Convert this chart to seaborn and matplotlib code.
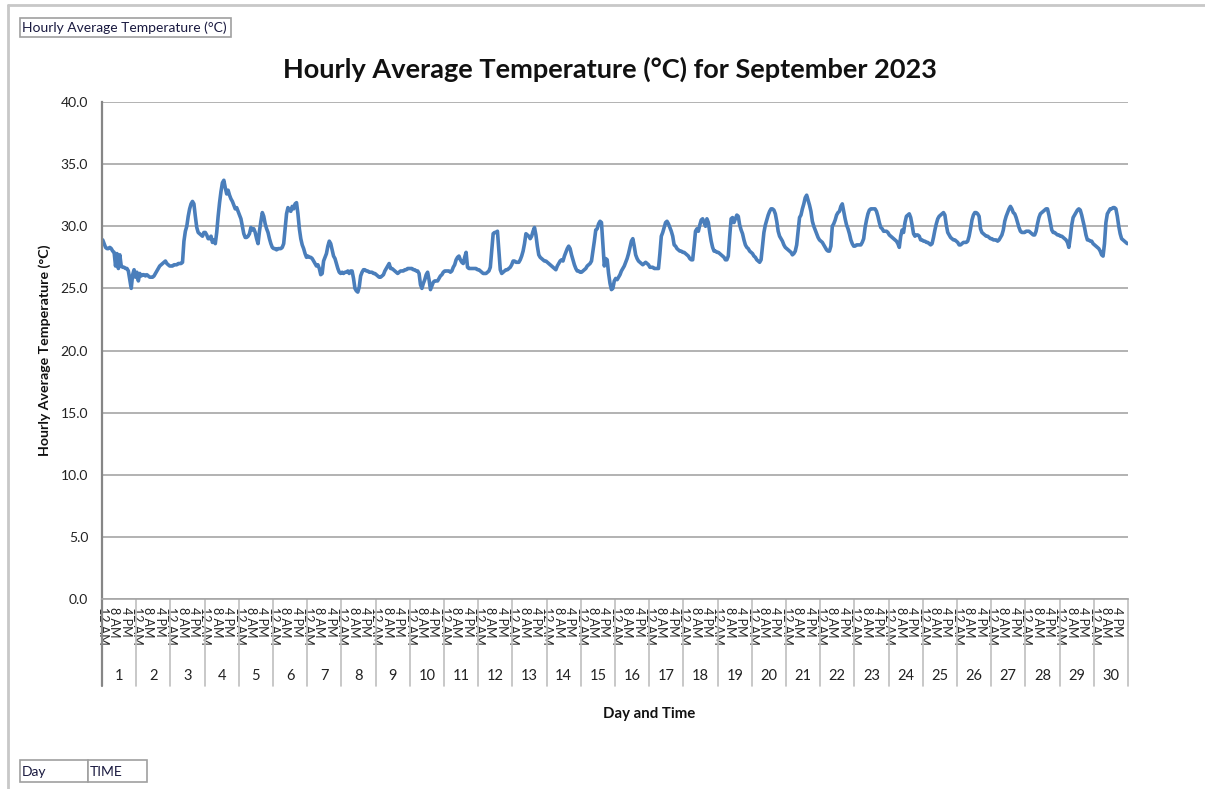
import numpy as np
import pandas as pd
import matplotlib
matplotlib.use("Agg")
import matplotlib.pyplot as plt
import seaborn as sns
from matplotlib.lines import Line2D
from matplotlib.patches import Rectangle

# ---- data: hourly average temperature (°C), one list of 24 hours per day ----
days = list(range(1, 31))
hour_tick_hours = [0, 8, 16]
hour_tick_labels = ["12 AM", "8 AM", "4 PM"]
y_ticks = [0.0, 5.0, 10.0, 15.0, 20.0, 25.0, 30.0, 35.0, 40.0]

day01 = [28.9, 28.6, 28.3, 28.2, 28.2, 28.3, 28.2, 28.0, 27.9, 26.8, 27.8, 26.6, 27.7, 26.8, 26.7, 26.7, 26.6, 26.6, 26.4, 25.7, 25.0, 26.1, 26.5, 25.9]
day02 = [26.3, 25.6, 26.2, 26.0, 26.1, 26.1, 26.0, 26.1, 26.0, 25.9, 25.9, 25.9, 26.0, 26.2, 26.4, 26.6, 26.8, 26.9, 27.0, 27.1, 27.2, 27.0, 26.9, 26.8]
day03 = [26.8, 26.8, 26.9, 26.9, 26.9, 27.0, 27.0, 27.0, 27.1, 28.8, 29.6, 30.0, 30.8, 31.4, 31.8, 32.0, 31.8, 30.8, 29.9, 29.5, 29.4, 29.3, 29.2, 29.5]
day04 = [29.5, 29.3, 29.0, 29.0, 29.2, 28.7, 28.9, 28.6, 29.5, 30.8, 31.9, 32.8, 33.5, 33.7, 33.1, 32.6, 32.9, 32.5, 32.2, 32.0, 31.7, 31.4, 31.5, 31.2]
day05 = [30.9, 30.6, 30.0, 29.4, 29.1, 29.1, 29.2, 29.4, 29.9, 29.7, 29.8, 29.5, 29.0, 28.6, 29.6, 30.4, 31.1, 30.8, 30.2, 29.8, 29.5, 29.0, 28.6, 28.3]
day06 = [28.2, 28.2, 28.1, 28.2, 28.2, 28.2, 28.3, 28.6, 29.8, 31.0, 31.5, 31.3, 31.2, 31.6, 31.4, 31.8, 31.9, 31.0, 29.8, 29.0, 28.5, 28.2, 27.8, 27.5]
day07 = [27.6, 27.5, 27.5, 27.4, 27.2, 27.0, 26.8, 26.9, 26.6, 26.1, 26.2, 27.2, 27.5, 27.8, 28.4, 28.8, 28.6, 28.1, 27.6, 27.4, 27.0, 26.6, 26.3, 26.2]
day08 = [26.3, 26.2, 26.3, 26.3, 26.4, 26.2, 26.4, 26.4, 25.8, 25.0, 24.8, 24.7, 25.1, 26.0, 26.3, 26.5, 26.5, 26.4, 26.4, 26.3, 26.3, 26.3, 26.2, 26.2]
day09 = [26.1, 26.0, 25.9, 25.9, 26.0, 26.1, 26.4, 26.6, 26.8, 27.0, 26.6, 26.6, 26.5, 26.4, 26.3, 26.2, 26.3, 26.4, 26.4, 26.4, 26.5, 26.5, 26.6, 26.6]
day10 = [26.6, 26.6, 26.5, 26.5, 26.4, 26.4, 26.2, 25.3, 25.0, 25.4, 25.7, 26.1, 26.3, 25.7, 24.9, 25.2, 25.5, 25.6, 25.6, 25.6, 25.8, 26.0, 26.1, 26.3]
day11 = [26.4, 26.4, 26.4, 26.4, 26.3, 26.4, 26.7, 26.9, 27.3, 27.5, 27.6, 27.3, 27.1, 27.0, 27.5, 27.9, 26.7, 26.6, 26.6, 26.6, 26.6, 26.6, 26.6, 26.5]
day12 = [26.5, 26.4, 26.3, 26.2, 26.2, 26.2, 26.3, 26.4, 26.7, 28.0, 29.4, 29.5, 29.5, 29.6, 28.0, 26.5, 26.2, 26.3, 26.4, 26.5, 26.5, 26.6, 26.7, 26.9]
day13 = [27.2, 27.2, 27.1, 27.1, 27.1, 27.3, 27.6, 28.0, 28.6, 29.4, 29.3, 29.2, 29.0, 29.2, 29.6, 29.9, 29.3, 28.4, 27.7, 27.5, 27.4, 27.3, 27.2, 27.2]
day14 = [27.1, 27.0, 26.9, 26.8, 26.7, 26.6, 26.5, 26.8, 27.0, 27.2, 27.3, 27.2, 27.6, 27.9, 28.2, 28.4, 28.2, 27.7, 27.3, 26.9, 26.6, 26.4, 26.4, 26.3]
day15 = [26.3, 26.4, 26.5, 26.6, 26.8, 26.9, 27.0, 27.2, 28.0, 28.8, 29.7, 29.8, 30.2, 30.4, 30.3, 28.5, 26.8, 27.4, 27.3, 26.2, 25.4, 24.9, 25.0, 25.6]
day16 = [25.8, 25.7, 25.9, 26.1, 26.4, 26.6, 26.8, 27.1, 27.4, 27.8, 28.3, 28.8, 29.0, 28.4, 27.7, 27.4, 27.2, 27.1, 27.0, 26.9, 27.0, 27.1, 27.0, 26.9]
day17 = [26.7, 26.7, 26.7, 26.6, 26.6, 26.6, 26.6, 27.8, 29.2, 29.5, 29.9, 30.3, 30.4, 30.2, 29.9, 29.6, 29.2, 28.5, 28.4, 28.2, 28.1, 28.0, 28.0, 27.9]
day18 = [27.9, 27.8, 27.7, 27.6, 27.4, 27.3, 27.3, 28.4, 29.6, 29.8, 29.6, 30.1, 30.5, 30.6, 30.3, 30.0, 30.6, 30.3, 29.5, 28.8, 28.3, 28.0, 28.0, 27.9]
day19 = [27.9, 27.8, 27.7, 27.6, 27.5, 27.3, 27.3, 27.6, 29.2, 30.6, 30.7, 30.3, 30.6, 30.9, 30.8, 30.1, 29.7, 29.4, 28.9, 28.5, 28.3, 28.2, 28.0, 27.9]
day20 = [27.8, 27.6, 27.5, 27.3, 27.2, 27.1, 27.3, 28.4, 29.5, 30.1, 30.5, 30.9, 31.2, 31.4, 31.4, 31.3, 31.0, 30.4, 29.6, 29.2, 29.0, 28.8, 28.5, 28.3]
day21 = [28.2, 28.1, 28.0, 27.9, 27.7, 27.8, 28.0, 28.5, 29.6, 30.7, 30.9, 31.4, 31.8, 32.3, 32.5, 32.1, 31.7, 31.2, 30.4, 30.0, 29.7, 29.4, 29.1, 28.9]
day22 = [28.8, 28.7, 28.5, 28.3, 28.1, 28.0, 28.0, 28.4, 30.0, 30.2, 30.5, 30.9, 31.1, 31.2, 31.6, 31.8, 31.2, 30.6, 30.1, 29.8, 29.4, 28.9, 28.6, 28.4]
day23 = [28.4, 28.5, 28.5, 28.5, 28.5, 28.7, 29.0, 29.9, 30.5, 31.0, 31.3, 31.4, 31.4, 31.4, 31.4, 31.2, 30.8, 30.3, 29.9, 29.8, 29.6, 29.6, 29.6, 29.5]
day24 = [29.3, 29.2, 29.1, 29.0, 28.9, 28.8, 28.6, 28.3, 29.2, 29.7, 29.5, 30.3, 30.8, 30.9, 31.0, 30.7, 30.1, 29.4, 29.2, 29.3, 29.3, 29.2, 28.9, 28.9]
day25 = [28.8, 28.8, 28.7, 28.7, 28.6, 28.5, 28.6, 29.1, 29.7, 30.2, 30.6, 30.8, 30.9, 31.0, 31.1, 30.9, 30.1, 29.5, 29.3, 29.1, 29.0, 28.9, 28.9, 28.8]
day26 = [28.7, 28.5, 28.5, 28.6, 28.7, 28.7, 28.7, 28.8, 29.2, 29.8, 30.5, 30.9, 31.1, 31.1, 31.0, 30.8, 29.8, 29.5, 29.4, 29.3, 29.2, 29.2, 29.1, 29.0]
day27 = [29.0, 28.9, 28.9, 28.9, 28.8, 28.9, 29.1, 29.3, 29.7, 30.4, 30.8, 31.1, 31.4, 31.6, 31.4, 31.1, 31.0, 30.7, 30.3, 29.9, 29.6, 29.5, 29.5, 29.5]
day28 = [29.6, 29.6, 29.6, 29.5, 29.4, 29.3, 29.3, 29.6, 30.2, 30.7, 31.0, 31.1, 31.2, 31.3, 31.4, 31.4, 30.9, 30.3, 29.7, 29.5, 29.5, 29.4, 29.3, 29.3]
day29 = [29.2, 29.2, 29.1, 29.0, 28.9, 28.7, 28.3, 29.1, 30.1, 30.7, 30.9, 31.1, 31.3, 31.4, 31.3, 30.9, 30.4, 29.9, 29.3, 28.9, 28.9, 28.8, 28.8, 28.6]
day30 = [28.5, 28.4, 28.3, 28.2, 28.0, 27.7, 27.6, 28.6, 30.3, 31.0, 31.2, 31.4, 31.4, 31.5, 31.5, 31.4, 30.8, 30.0, 29.4, 29.0, 28.9, 28.8, 28.7, 28.6]

daily_series = [day01, day02, day03, day04, day05, day06, day07, day08, day09, day10,
                day11, day12, day13, day14, day15, day16, day17, day18, day19, day20,
                day21, day22, day23, day24, day25, day26, day27, day28, day29, day30]

hours_per_day = 24
df = pd.DataFrame({
    "day": np.repeat(days, hours_per_day),
    "hour": np.tile(np.arange(hours_per_day), len(days)),
    "temp": np.concatenate([np.asarray(v, dtype=float) for v in daily_series]),
})
df["slot"] = (df["day"] - 1) * hours_per_day + df["hour"]

# ---- style ----
sns.set_style("white")
plt.rcParams["font.family"] = ["Lato", "DejaVu Sans"]

W, H = 1205, 789
fig = plt.figure(figsize=(W / 100, H / 100), dpi=100)
fig.patch.set_facecolor("white")

px_left, px_right, px_top, px_bottom = 102, 1128, 102, 599
ax = fig.add_axes([px_left / W, 1 - px_bottom / H,
                   (px_right - px_left) / W, (px_bottom - px_top) / H])

sns.lineplot(data=df, x="slot", y="temp", ax=ax, color="#4A7EBB",
             linewidth=2.6, solid_joinstyle="round", solid_capstyle="round")

n_slots = len(df)
ax.set_xlim(-0.5, n_slots - 0.5)
ax.set_ylim(0, 40)
ax.set_xlabel("")
ax.set_ylabel("")

# y axis
ax.set_yticks(y_ticks)
ax.set_yticklabels([f"{v:.1f}" for v in y_ticks], fontsize=10, color="#222222")
ax.yaxis.grid(True, color="#A6A6A6", linewidth=1.2)
ax.xaxis.grid(False)
ax.set_axisbelow(True)
ax.tick_params(axis="y", length=5, width=1.2, color="#868686", pad=5)

for side in ("top", "right"):
    ax.spines[side].set_visible(False)
ax.spines["left"].set_color("#868686")
ax.spines["left"].set_linewidth(1.6)
ax.spines["bottom"].set_color("#A6A6A6")
ax.spines["bottom"].set_linewidth(1.2)

# x axis: hour labels within each day
tick_pos = [(d - 1) * hours_per_day + h for d in days for h in hour_tick_hours]
tick_lab = [lab for _ in days for lab in hour_tick_labels]
ax.set_xticks(tick_pos)
ax.set_xticklabels(tick_lab, rotation=-90, fontsize=9, color="#222222")
ax.tick_params(axis="x", length=0, pad=6)

# day group separators and day numbers below the hour labels
xtr = ax.get_xaxis_transform()
sep_bottom = -(686 - px_bottom) / (px_bottom - px_top)
for i in range(len(days) + 1):
    xpos = i * hours_per_day - 0.5
    col = "#868686" if i == 0 else "#BFBFBF"
    lw = 1.6 if i == 0 else 1.2
    ax.add_line(Line2D([xpos, xpos], [0, sep_bottom], transform=xtr,
                       color=col, linewidth=lw, clip_on=False))
day_y = -(676 - px_bottom) / (px_bottom - px_top)
for d in days:
    ax.text((d - 1) * hours_per_day + (hours_per_day - 1) / 2, day_y, str(d),
            transform=xtr, ha="center", va="center", fontsize=10.5, color="#222222")

# titles
fig.text(610 / W, 1 - 69 / H, "Hourly Average Temperature (°C) for September 2023",
         ha="center", va="center", fontsize=19.5, fontweight="bold", color="#111111")
fig.text(45 / W, 1 - 350 / H, "Hourly Average Temperature (°C)", rotation=90,
         ha="center", va="center", fontsize=10.2, fontweight="bold", color="#111111")
fig.text(649 / W, 1 - 714 / H, "Day and Time", ha="center", va="center",
         fontsize=10.8, fontweight="bold", color="#111111")

# outer frame (left and top edges)
fig.add_artist(Line2D([8 / W, 8 / W], [0, 1 - 5 / H], transform=fig.transFigure,
                      color="#C8C8C8", linewidth=2))
fig.add_artist(Line2D([8 / W, 1], [1 - 5 / H, 1 - 5 / H], transform=fig.transFigure,
                      color="#C8C8C8", linewidth=2))

# field buttons
def field_box(x0, y0, x1, y1, label):
    fig.add_artist(Rectangle((x0 / W, 1 - y1 / H), (x1 - x0) / W, (y1 - y0) / H,
                             transform=fig.transFigure, facecolor="white",
                             edgecolor="#A0A0A0", linewidth=1.2))
    fig.text((x0 + 1.5) / W, 1 - ((y0 + y1) / 2 + 0.5) / H, label, ha="left", va="center",
             fontsize=10, color="#1a1a40")

field_box(20, 18, 231, 37, "Hourly Average Temperature (°C)")
field_box(20, 760, 88, 782, "Day")
field_box(88, 760, 147, 782, "TIME")

fig.savefig("out.png", dpi=100, facecolor="white")
